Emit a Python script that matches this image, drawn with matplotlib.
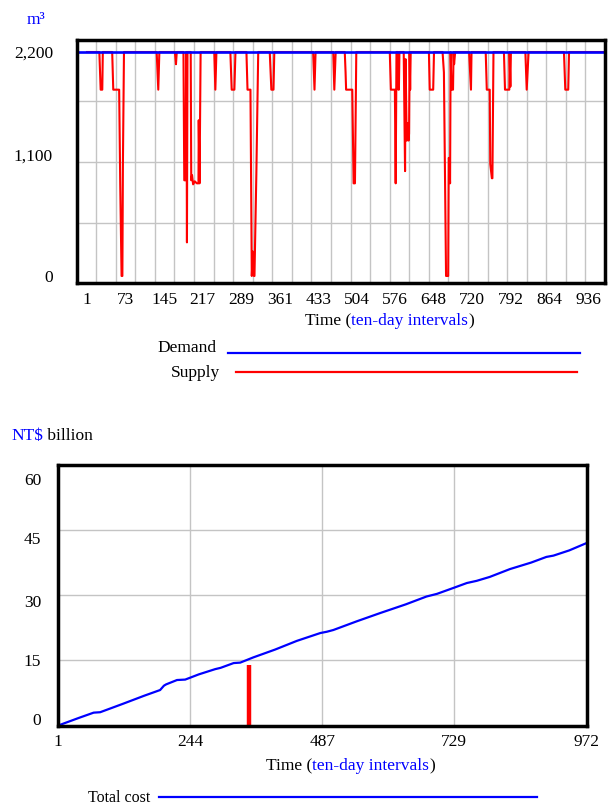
import matplotlib
matplotlib.use("Agg")
import matplotlib.pyplot as plt
from matplotlib.lines import Line2D
from matplotlib.transforms import ScaledTranslation
import numpy as np

# top chart: water demand vs supply (m3), vertices
demand_level = 2200
supply_t = [1, 24, 26.5, 29.5, 30.5,
            48, 50, 61, 63, 65.5, 67, 68, 70,
            131, 134, 136,
            165, 167, 168.5,
            181, 182.5, 185, 186, 186.5, 187.5, 188.5, 194.5, 195.5, 197, 199, 202, 206, 209, 209.5, 211, 213,
            238.5, 240.5, 242.5,
            268.5, 271, 276, 278,
            298.5, 300.5, 306, 308.5, 310.5, 312.5, 313.5, 317, 320.5,
            342, 345, 349, 350.5,
            423, 425.5, 427.5,
            460.5, 462.5, 465,
            482, 483.5, 484.5, 496, 498.5, 501, 503.5,
            566, 568, 575.5, 577, 578.5, 581, 582, 583, 584,
            592, 594.5, 595.5, 597.5, 599.5, 601, 602, 603, 604, 605,
            639, 640.5, 647, 648.5,
            664.5, 667, 671, 675, 676, 677, 678.5, 679.5, 681, 684, 685, 686, 688,
            714, 717.5, 718.5,
            745, 747, 752.5, 753.5, 756.5, 757.5, 759.5,
            779, 781, 789, 789.5, 791, 792,
            819, 821.5, 825,
            891, 893.5, 899, 900.5,
            972]
supply_v = [2200, 2200, 1830, 1830, 2200,
            2200, 1830, 1830, 900, 0, 0, 1100, 2200,
            2200, 1830, 2200,
            2200, 2080, 2200,
            2200, 940, 940, 2200, 2200, 330, 2200, 2200, 940, 990, 900, 930, 910, 910, 1530, 910, 2200,
            2200, 1830, 2200,
            2200, 1830, 1830, 2200,
            2200, 1830, 1830, 0, 240, 0, 0, 1000, 2200,
            2200, 1830, 1830, 2200,
            2200, 1830, 2200,
            2200, 1830, 2200,
            2200, 2000, 1830, 1830, 910, 910, 2200,
            2200, 1830, 1830, 910, 2200, 2200, 1830, 1830, 2200,
            2200, 1030, 2130, 1330, 1500, 1330, 1400, 2200, 1830, 2200,
            2200, 1830, 1830, 2200,
            2200, 2000, 0, 0, 1160, 1150, 910, 2200, 1830, 1830, 2200, 2080, 2200,
            2200, 1830, 2200,
            2200, 1830, 1830, 1100, 960, 960, 2200,
            2200, 1830, 1830, 2200, 1860, 2200,
            2200, 1830, 2200,
            2200, 1830, 1830, 2200,
            2200]
top_xticks = [1, 73, 145, 217, 289, 361, 433, 504, 576, 648, 720, 792, 864, 936]
top_yticks = [0, 1100, 2200]

# bottom chart: total cost (NT$ billion)
cost_t = [1, 40, 67, 79, 120, 160, 189, 196, 200, 220, 235, 260, 290, 300, 324, 336, 360,
          400, 440, 483, 495, 507, 550, 593, 640, 678, 697, 728, 752, 770, 794, 831, 870,
          898, 911, 940, 972]
cost_v = [0, 1.8, 3.0, 3.1, 5.0, 6.9, 8.2, 9.2, 9.5, 10.5, 10.6, 11.8, 13.0, 13.3, 14.4, 14.5, 15.7,
          17.5, 19.5, 21.3, 21.6, 22.0, 24.0, 25.9, 27.9, 29.7, 30.3, 31.7, 32.8, 33.3, 34.2, 36.0, 37.5,
          38.8, 39.1, 40.3, 42.0]
marker_t = 352
marker_top = 14
bot_xticks = [1, 244, 487, 729, 972]
bot_yticks = [0, 15, 30, 45, 60]

plt.rcParams.update({
    "font.family": "Liberation Serif",
    "font.size": 12.5,
})

W, H = 609, 805
fig = plt.figure(figsize=(W / 100, H / 100), dpi=100)


def box(l, t, r, b):
    return [l / W, 1 - b / H, (r - l) / W, (b - t) / H]


def fpos(px, py):
    return px / W, 1 - py / H


def nudge(labels, shifts_px):
    # the original tool draws y labels slightly off the grid
    for lab, dy in zip(labels, shifts_px):
        lab.set_transform(lab.get_transform() + ScaledTranslation(0, -dy / 100, fig.dpi_scale_trans))


grid_col = "#c4c4c4"
blue = "#0000ff"
red = "#ff0000"

# ---- top chart ----
ax1 = fig.add_axes(box(76.5, 40.3, 605, 283.3))
ax1.plot(supply_t, supply_v, color=red, lw=1.5, zorder=3)
ax1.axhline(demand_level, color=blue, lw=1.9, zorder=4)
ax1.set_xlim(-18.6, 967.6)
ax1.set_ylim(-72, 2315)
ax1.set_xticks(top_xticks)
ax1.set_xticklabels([str(v) for v in top_xticks])
ax1.set_yticks(top_yticks)
ax1.set_yticklabels([f"{v:,}" for v in top_yticks])
ax1.set_xticks(np.linspace(*ax1.get_xlim(), 28)[1:-1], minor=True)
ax1.set_yticks(np.linspace(*ax1.get_ylim(), 5)[1:-1], minor=True)
ax1.grid(which="minor", color=grid_col, lw=1.0)
ax1.grid(which="major", visible=False)
ax1.tick_params(which="both", length=0)
ax1.tick_params(axis="x", pad=6)
ax1.tick_params(axis="y", pad=17)
ax1.set_axisbelow(True)
nudge(ax1.get_yticklabels(), [0, -9, 0])

# ---- bottom chart ----
ax2 = fig.add_axes(box(57.7, 464.7, 586.7, 725.7))
ax2.plot(cost_t, cost_v, color=blue, lw=1.6, zorder=3)
ax2.vlines(marker_t, -0.5, marker_top, color=red, lw=3.2, zorder=4, clip_on=False)
ax2.set_xlim(1, 972)
ax2.set_ylim(0, 60)
ax2.set_xticks(bot_xticks)
ax2.set_yticks(bot_yticks)
ax2.grid(color=grid_col, lw=1.0)
ax2.tick_params(length=0)
ax2.tick_params(axis="x", pad=6)
ax2.tick_params(axis="y", pad=12)
ax2.set_axisbelow(True)
nudge(ax2.get_yticklabels(), [-6.5, 0, 5.5, 8.5, 14.5])

for ax in (ax1, ax2):
    for s in ax.spines.values():
        s.set_linewidth(2.5)
        s.set_color("black")
        s.set_zorder(5)


def xlabel(ax, px, py):
    t1 = fig.text(*fpos(px, py), "Time (", ha="left", va="baseline")
    t2 = ax.annotate("ten-day intervals", xy=(1, 0), xycoords=t1, ha="left", va="bottom",
                     color=blue, annotation_clip=False)
    ax.annotate(")", xy=(1, 0), xycoords=t2, ha="left", va="bottom", annotation_clip=False)


xlabel(ax1, 305, 325)
xlabel(ax2, 266, 770)

# units
fig.text(*fpos(26.5, 24), "m³", color=blue, ha="left", va="baseline")
t_nt = fig.text(*fpos(11.5, 440), "NT$", color=blue, ha="left", va="baseline")
ax2.annotate(" billion", xy=(1, 0), xycoords=t_nt, ha="left", va="bottom", annotation_clip=False)

# legends
fig.text(*fpos(157, 352), "Demand", ha="left", va="baseline")
fig.add_artist(Line2D([228 / W, 580 / W], [1 - 352.7 / H] * 2, color=blue, lw=1.6))
fig.text(*fpos(170.5, 377), "Supply", ha="left", va="baseline")
fig.add_artist(Line2D([235.7 / W, 577.3 / W], [1 - 372 / H] * 2, color=red, lw=1.6))
fig.text(*fpos(88, 801.5), "Total cost", ha="left", va="baseline", fontsize=11.5)
fig.add_artist(Line2D([159.3 / W, 536.7 / W], [1 - 796.7 / H] * 2, color=blue, lw=1.6))

fig.savefig("out.png", dpi=100)
